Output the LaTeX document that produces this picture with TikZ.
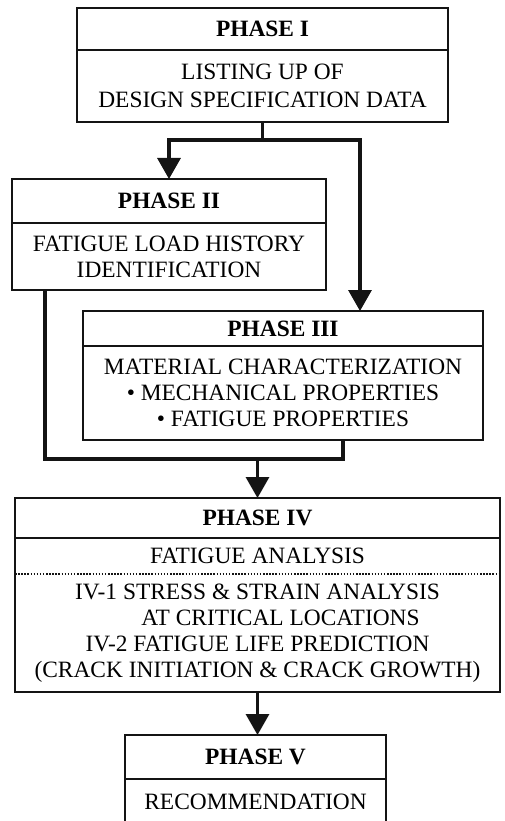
\documentclass[tikz,border=0pt]{standalone}
\usepackage{fontspec}
\setmainfont{Liberation Serif}
\usetikzlibrary{arrows.meta}
\definecolor{scanblack}{RGB}{20, 20, 20}

\begin{document}
\fontsize{23.4}{26}\selectfont
\begin{tikzpicture}[x=1pt, y=-1pt, line width=2.7pt, draw=scanblack,
    headbox/.style={draw, rectangle, inner sep=0pt, outer sep=0pt,
      anchor=north, font=\bfseries},
    bodybox/.style={draw, rectangle, inner sep=0pt, outer sep=0pt,
      anchor=north, align=center},
    link/.style={line width=3.3pt},
    flow/.style={link, -{Triangle[length=21pt, width=23pt]}},
    dotsep/.style={line width=1.7pt, dash pattern=on 1.5pt off 1.6pt}]
        \useasboundingbox (0,0) rectangle (505,821);
        \clip (0,0) rectangle (505,821);

        \node[headbox, minimum width=371pt, minimum height=42pt]
          (p1h) at (262.5,8) {PHASE I};
        \node[bodybox, minimum width=371pt, minimum height=72pt]
          (p1b) at (p1h.south) {LISTING UP OF\\[2pt]DESIGN SPECIFICATION DATA};

        \node[headbox, minimum width=314pt, minimum height=44pt]
          (p2h) at (169,179) {PHASE II};
        \node[bodybox, minimum width=314pt, minimum height=67pt]
          (p2b) at (p2h.south) {FATIGUE LOAD HISTORY\\IDENTIFICATION};

        \node[headbox, minimum width=400pt, minimum height=35pt]
          (p3h) at (283,311) {PHASE III};
        \node[bodybox, minimum width=400pt, minimum height=94pt]
          (p3b) at (p3h.south) {MATERIAL CHARACTERIZATION\\
            • MECHANICAL PROPERTIES\\• FATIGUE PROPERTIES};

        \node[headbox, minimum width=485pt, minimum height=40pt]
          (p4h) at (257.5,498) {PHASE IV};
        \node[bodybox, minimum width=485pt, minimum height=154pt]
          (p4b) at (p4h.south) {};
        \node (p4t) at (257.5,556) {FATIGUE ANALYSIS};
        \node[align=center] (p4l) at (257.5,633)
          {IV-1 STRESS \& STRAIN ANALYSIS\\
           \hspace*{46pt}AT CRITICAL LOCATIONS\\
           IV-2 FATIGUE LIFE PREDICTION\\
           (CRACK INITIATION \& CRACK GROWTH)};
        \coordinate (dl) at (15,574);
        \coordinate (dr) at (500,574);
        \draw[dotsep] (dl) -- (dr);

        \node[headbox, minimum width=261pt, minimum height=44pt]
          (p5h) at (255.5,735) {PHASE V};
        \node[bodybox, minimum width=261pt, minimum height=46pt]
          (p5b) at (p5h.south) {RECOMMENDATION};

        \draw[link] (p1b.south) -- ++(0,18) coordinate (fork);
        \coordinate (in3) at (360,311);
        \draw[flow] (fork) -| (p2h.north);
        \draw[flow] (fork) -| (in3);

        \coordinate (out2) at (45,290);
        \coordinate (out3) at (343,440);
        \coordinate (join) at (257.5,459);
        \draw[link] (out2) |- (join) -| (out3);
        \draw[flow] (join) -- (p4h.north);
        \draw[flow] (p4b.south) -- (p4b.south |- p5h.north);
      \end{tikzpicture}
\end{document}
